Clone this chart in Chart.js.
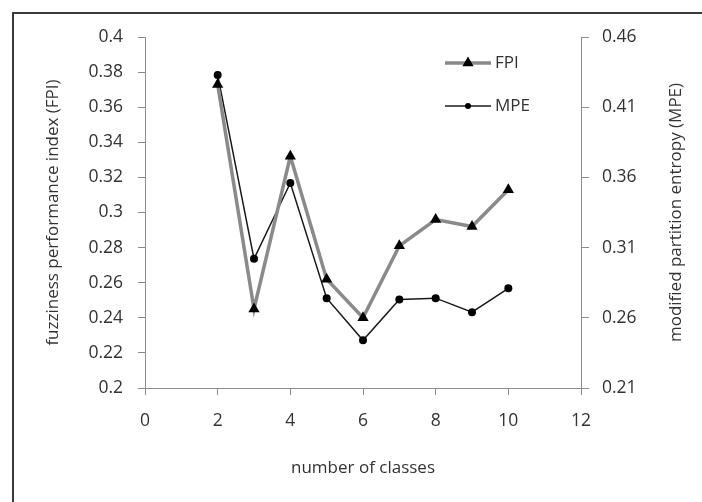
<!DOCTYPE html>
<html>
<head>
<meta charset="utf-8">
<script src="https://cdn.jsdelivr.net/npm/chart.js@4/dist/chart.umd.min.js"></script>
<style>
    body { margin: 0; background: #fff; overflow: hidden; }
    #wrap { position: relative; width: 702px; height: 502px; overflow: hidden; }
    #frame { position: absolute; left: 12px; top: 12px; width: 720px; height: 520px; border: 2px solid #3a3a3a; box-sizing: border-box; }
    #fpiChart { position: absolute; left: 0; top: 0; }
</style>
</head>
<body>
<div id="wrap">
    <div id="frame"></div>
    <canvas id="fpiChart" width="702" height="502"></canvas>
</div>
<script>
var classes = [2, 3, 4, 5, 6, 7, 8, 9, 10];
var fpiValues = [0.373, 0.245, 0.332, 0.262, 0.240, 0.281, 0.296, 0.292, 0.313];
var mpeValues = [0.433, 0.302, 0.356, 0.274, 0.244, 0.273, 0.274, 0.264, 0.281];
var seriesNames = ["FPI", "MPE"];
var xTitle = "number of classes";
var leftTitle = "fuzziness performance index (FPI)";
var rightTitle = "modified partition entropy (MPE)";

function toPoints(xs, ys) {
    var arr = [];
    for (var i = 0; i < xs.length; i++) {
        arr.push({x: xs[i], y: ys[i]});
    }
    return arr;
}

function tickText(v) {
    return String(parseFloat(v.toFixed(2)));
}

var axisGray = "#8c8c8c";
var textColor = "#333333";
var tickFont = {family: "'Open Sans'", size: 17.5};
var titleFont = {family: "'Open Sans'", size: 17};

// legend inside the plot (top right) + right axis title read bottom-to-top
var extras = {
    id: "extras",
    afterDraw: function (chart) {
        var ctx = chart.ctx;
        var area = chart.chartArea;
        var x0 = area.right - 136;
        var rows = [area.top + 26, area.top + 69];
        ctx.save();
        chart.data.datasets.forEach(function (ds, i) {
            var y = rows[i];
            ctx.strokeStyle = ds.borderColor;
            ctx.lineWidth = ds.borderWidth;
            ctx.beginPath();
            ctx.moveTo(x0, y);
            ctx.lineTo(x0 + 46, y);
            ctx.stroke();
            ctx.fillStyle = "#000";
            var cx = x0 + 23;
            ctx.beginPath();
            if (ds.pointStyle === "triangle") {
                var r = ds.pointRadius;
                ctx.moveTo(cx, y - r);
                ctx.lineTo(cx + r * 0.866, y + r * 0.5);
                ctx.lineTo(cx - r * 0.866, y + r * 0.5);
                ctx.closePath();
            } else {
                ctx.arc(cx, y, 3, 0, Math.PI * 2);
            }
            ctx.fill();
            ctx.fillStyle = textColor;
            ctx.font = "17px 'Open Sans'";
            ctx.textBaseline = "middle";
            ctx.textAlign = "left";
            ctx.fillText(ds.label, x0 + 50, y);
        });
        ctx.translate(676, (area.top + area.bottom) / 2);
        ctx.rotate(-Math.PI / 2);
        ctx.font = "17px 'Open Sans'";
        ctx.textAlign = "center";
        ctx.textBaseline = "middle";
        ctx.fillText(rightTitle, 0, 0);
        ctx.restore();
    }
};

var chartElem = document.getElementById("fpiChart");
var fpiChart = new Chart(chartElem, {
    type: 'line',
    data: {
        datasets: [
            {
                label: seriesNames[0],
                data: toPoints(classes, fpiValues),
                yAxisID: 'yLeft',
                borderColor: "#8a8a8a",
                borderWidth: 3.5,
                pointStyle: 'triangle',
                pointRadius: 6.5,
                pointBackgroundColor: "#000",
                pointBorderColor: "#000",
                pointBorderWidth: 0,
                lineTension: 0
            },
            {
                label: seriesNames[1],
                data: toPoints(classes, mpeValues),
                yAxisID: 'yRight',
                borderColor: "#1a1a1a",
                borderWidth: 1.5,
                pointStyle: 'circle',
                pointRadius: 4,
                pointBackgroundColor: "#000",
                pointBorderColor: "#000",
                pointBorderWidth: 0,
                lineTension: 0
            }
        ]
    },
    options: {
        responsive: false,
        animation: false,
        layout: {padding: {top: 37, left: 0, right: 0, bottom: 0}},
        plugins: {legend: {display: false}, tooltip: {enabled: false}},
        scales: {
            x: {
                type: 'linear',
                min: 0,
                max: 12,
                ticks: {stepSize: 2, color: textColor, font: tickFont, padding: 16, maxRotation: 0},
                grid: {drawOnChartArea: false, tickLength: 7, color: axisGray},
                border: {color: axisGray},
                title: {display: true, text: xTitle, color: textColor, font: titleFont, padding: {top: 0, bottom: 24}},
                afterFit: function (scale) { scale.height = 114; }
            },
            yLeft: {
                position: 'left',
                min: 0.2,
                max: 0.4,
                ticks: {stepSize: 0.02, color: textColor, font: tickFont, padding: 15, callback: tickText},
                grid: {drawOnChartArea: false, tickLength: 7, color: axisGray},
                border: {color: axisGray},
                title: {display: true, text: leftTitle, color: textColor, font: titleFont, padding: {top: 43, bottom: 0}},
                afterFit: function (scale) { scale.width = 145; }
            },
            yRight: {
                position: 'right',
                min: 0.21,
                max: 0.46,
                ticks: {stepSize: 0.05, color: textColor, font: tickFont, padding: 13, callback: tickText},
                grid: {drawOnChartArea: false, tickLength: 8, color: axisGray},
                border: {color: axisGray},
                title: {display: false},
                afterFit: function (scale) { scale.width = 121; }
            }
        }
    },
    plugins: [extras]
});
</script>
</body>
</html>
